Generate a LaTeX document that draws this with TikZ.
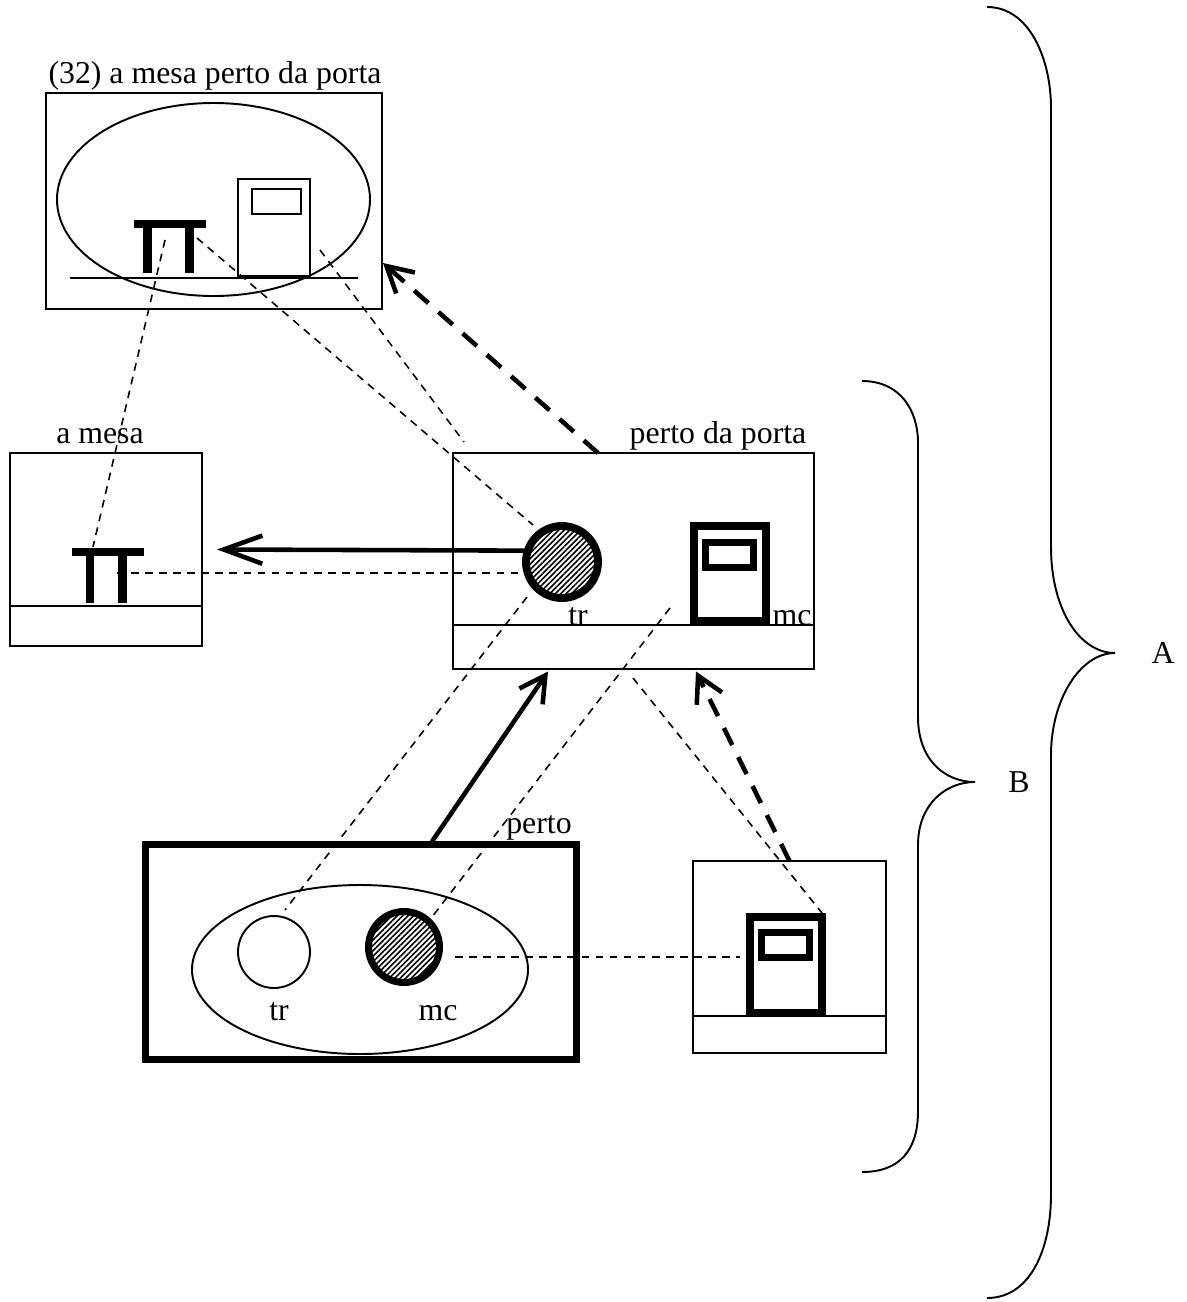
\documentclass[tikz,border=0pt]{standalone}
\usepackage{fontspec}
\setmainfont{Liberation Serif}
\usetikzlibrary{arrows.meta, patterns.meta, positioning, calc}

\tikzset{
  frame/.style={draw, line width=1.1pt, inner sep=0pt, outer sep=0pt},
  heavyframe/.style={draw, line width=4pt, inner sep=0pt, outer sep=0pt},
  thin/.style={line width=1.1pt},
  link/.style={line width=0.9pt, dash pattern=on 4.4pt off 3.6pt},
  move/.style={line width=2.6pt, -{Straight Barb[length=14.5pt, width=16pt]}},
  longmove/.style={line width=2.6pt, -{Straight Barb[length=22pt, width=16pt]}},
  dashmove/.style={move, dash pattern=on 10.8pt off 7.6pt},
  hatched/.style={pattern={Lines[angle=45, distance=2.2pt, line width=0.9pt]}},
  tag/.style={anchor=base, inner sep=0pt}
}

\begin{document}
\begin{tikzpicture}[x=0.02cm, y=-0.02cm, font=\fontsize{18.1pt}{22pt}\selectfont]
\useasboundingbox (0,0) rectangle (1187,1302);

% Scene boxes
\node[frame, minimum width=6.72cm, minimum height=4.32cm] (whole) at (214,201) {};
\node[frame, minimum width=3.84cm, minimum height=3.86cm] (mesa) at (106,549.5) {};
\node[frame, minimum width=7.22cm, minimum height=4.32cm] (porta) at (633.5,561) {};
\node[heavyframe, minimum width=8.62cm, minimum height=4.3cm] (perto) at (361,952) {};
\node[frame, minimum width=3.86cm, minimum height=3.84cm] (doorbox) at (789.5,957) {};

% Labels
\node[tag] (ttl) at (215,83) {(32) a mesa perto da porta};
\node[tag] (lmesa) at (100,443) {a mesa};
\node[tag] (lporta) at (718,443) {perto da porta};
\node[tag] (lperto) at (539,833) {perto};
\node[tag] (ltrP) at (578,625) {tr};
\node[tag] (lmcP) at (792,625) {mc};
\node[tag] (ltrS) at (279,1020) {tr};
\node[tag] (lmcS) at (438,1020) {mc};
\node[tag] (lB) at (1019,792) {B};
\node[tag] (lA) at (1163,663) {A};

% Whole scene
\draw[thin] (213.5,199.5) ellipse [x radius=156.5, y radius=96.5];
\draw[thin] (70,278) -- (358,278);
\fill (134,220) rectangle (206,228);
\fill (143,228) rectangle (152,273);
\fill (185,228) rectangle (194,273);
\draw[thin] (238,179) rectangle (310,276);
\draw[thin] (252,189) rectangle (301,214);

% a mesa
\draw[thin] (10,606) -- (202,606);
\fill (72,548) rectangle (144,556);
\fill (86,556) rectangle (94,603);
\fill (118,556) rectangle (127,603);

% perto da porta
\draw[thin] (452,625) -- (814,625);
\node[circle, draw, line width=4.5pt, hatched, minimum size=1.44cm, inner sep=0pt] (trP) at (562,562) {};
\draw[line width=4.5pt] (694,526) rectangle (766,621);
\draw[line width=4pt] (705.5,542.5) rectangle (753.5,567.5);

% perto
\draw[thin] (360,969.5) ellipse [x radius=168, y radius=84.5];
\node[circle, draw, line width=1.1pt, minimum size=1.44cm, inner sep=0pt] (trS) at (274,952) {};
\node[circle, draw, line width=4pt, hatched, minimum size=1.42cm, inner sep=0pt] (mcS) at (404,947) {};

% a porta
\draw[thin] (693,1016) -- (886,1016);
\draw[line width=4.5pt] (750,917) rectangle (822,1013);
\draw[line width=4pt] (761.5,932.5) rectangle (809.5,957.5);

% Correspondence points
\coordinate (wTab) at (165,240);
\coordinate (wLeg) at (197,238);
\coordinate (wDoor) at (320,250);
\coordinate (mTab) at (93,547);
\coordinate (mLeg) at (117,573);
\coordinate (pTop) at (464,442);
\coordinate (pTr) at (533,525);
\coordinate (pTrL) at (520,573);
\coordinate (pTrD) at (527,597);
\coordinate (pMc) at (670,608);
\coordinate (pLow) at (633,678);
\coordinate (sTr) at (285,910);
\coordinate (sMc) at (432,917);
\coordinate (sMcR) at (455,957);
\coordinate (dTop) at (822,913);
\coordinate (dLeft) at (740,957);

% Dashed links
\draw[link] (wTab) -- (mTab);
\draw[link] (wLeg) -- (pTr);
\draw[link] (wDoor) -- (pTop);
\draw[link] (mLeg) -- (pTrL);
\draw[link] (pTrD) -- (sTr);
\draw[link] (pMc) -- (sMc);
\draw[link] (pLow) -- (dTop);
\draw[link] (sMcR) -- (dLeft);

% Arrows
\draw[longmove] (trP.162) -- ([xshift=0.3cm]mesa.east);
\draw[dashmove] ([xshift=-0.71cm]porta.north) -- ([xshift=0.02cm, yshift=-1.24cm]whole.east);
\draw[move] ([xshift=1.42cm, yshift=0.06cm]perto.north) -- ([xshift=-1.71cm, yshift=-0.05cm]porta.south);
\draw[dashmove] (doorbox.north) -- ([xshift=1.25cm, yshift=-0.05cm]porta.south);

% Braces
\draw[thin] (862,381) .. controls (900,381) and (918,410) .. (918,443) -- (918,717)
  .. controls (918,760) and (945,782) .. (975,782)
  .. controls (945,782) and (918,805) .. (918,845) -- (918,1111)
  .. controls (918,1150) and (900,1172) .. (862,1172);
\draw[thin] (987,7) .. controls (1030,7) and (1051,60) .. (1051,108) -- (1051,547)
  .. controls (1051,610) and (1080,653) .. (1115,653)
  .. controls (1080,653) and (1051,700) .. (1051,755) -- (1051,1194)
  .. controls (1051,1250) and (1030,1298) .. (987,1298);
\end{tikzpicture}
\end{document}
